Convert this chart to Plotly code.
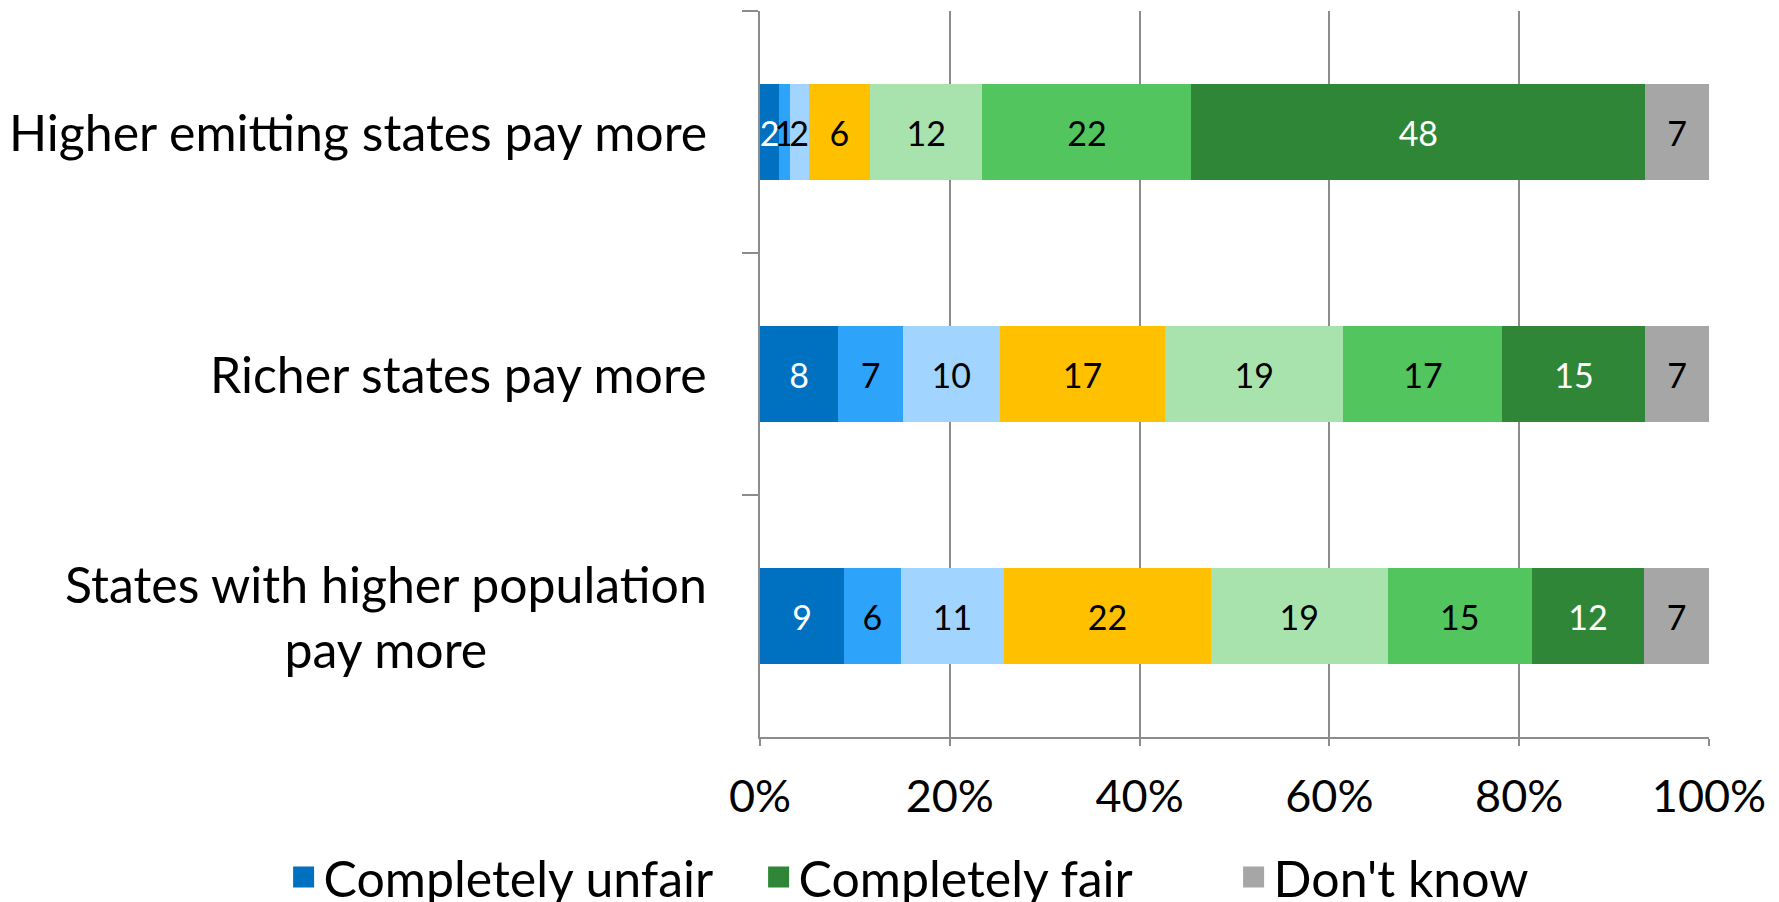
import plotly.graph_objects as go

categories = ["Higher emitting states pay more",
              "Richer states pay more",
              "States with higher population<br>pay more"]

series_names = ["Completely unfair", "2", "3", "4", "5", "6", "Completely fair", "Don't know"]

# percentage shares per category (top, middle, bottom)
unfair_1 = [2.03, 8.25, 8.85]
s2 = [1.08, 6.82, 5.98]
s3 = [2.03, 10.17, 10.89]
s4 = [6.46, 17.46, 21.77]
s5 = [11.84, 18.78, 18.66]
s6 = [22.01, 16.75, 15.19]
fair_7 = [47.85, 15.07, 11.84]
dont_know = [6.70, 6.70, 6.82]

series_values = [unfair_1, s2, s3, s4, s5, s6, fair_7, dont_know]
colors = ["#0070C0", "#2EA3FA", "#A1D5FF", "#FFC000", "#A8E3AD", "#53C55F", "#2E8636", "#A6A6A6"]
text_colors = ["white", "black", "black", "black", "black", "black", "white", "black"]
legend_shown = [True, False, False, False, False, False, True, True]

x_ticks = [0, 20, 40, 60, 80, 100]
x_tick_labels = ["0%", "20%", "40%", "60%", "80%", "100%"]

FONT = "Lato, 'Open Sans', sans-serif"

fig = go.Figure()
for name, vals, col, tcol in zip(series_names, series_values, colors, text_colors):
    fig.add_trace(go.Bar(
        y=categories, x=vals, name=name, orientation="h",
        marker=dict(color=col, line=dict(width=0)),
        texttemplate="%{x:.0f}", textposition="inside", insidetextanchor="middle",
        textfont=dict(color=tcol, size=34, family=FONT),
        showlegend=False, cliponaxis=False, legendgroup=name,
    ))

# legend entries (large square swatches) for the labelled series
for name, col, show in zip(series_names, colors, legend_shown):
    if show:
        fig.add_trace(go.Scatter(
            x=[None], y=[None], mode="markers", name=name, legendgroup=name,
            marker=dict(symbol="square", size=28, color=col,
                        line=dict(width=6, color=col)),
            showlegend=True,
        ))

for c in categories:
    fig.add_annotation(x=0, xref="paper", y=c, yref="y", text=c, showarrow=False,
                       xanchor="right", yanchor="middle", align="center", xshift=-51,
                       font=dict(size=50, color="black", family=FONT))

fig.update_layout(
    barmode="stack", bargap=0.6,
    width=1779, height=902,
    margin=dict(l=760, r=70, t=11, b=165, autoexpand=False),
    plot_bgcolor="white", paper_bgcolor="white",
    font=dict(family=FONT, color="black"),
    uniformtext=dict(minsize=34, mode="show"),
    legend=dict(orientation="h", xref="paper", yref="paper",
                x=-0.502, xanchor="left", y=-0.193, yanchor="middle",
                bgcolor="rgba(0,0,0,0)",
                font=dict(size=50, family=FONT), itemsizing="trace",
                entrywidth=430, entrywidthmode="pixels",
                traceorder="normal"),
    showlegend=True,
)
fig.update_xaxes(range=[0, 100.001], tickvals=x_ticks, ticktext=x_tick_labels,
                 showgrid=True, gridcolor="#8C8C8C", gridwidth=2,
                 showline=True, linecolor="#8C8C8C", linewidth=2,
                 ticks="outside", ticklen=7, tickcolor="#8C8C8C", tickwidth=2,
                 tickfont=dict(size=45, family=FONT, color="black"),
                 ticklabelstandoff=12, zeroline=False)
fig.update_yaxes(categoryorder="array", categoryarray=categories,
                 range=[2.5, -0.5], tickson="boundaries",
                 showticklabels=False, showgrid=False,
                 showline=True, linecolor="#8C8C8C", linewidth=2,
                 ticks="outside", ticklen=16, tickcolor="#8C8C8C", tickwidth=2)

fig.write_html("out.html")
